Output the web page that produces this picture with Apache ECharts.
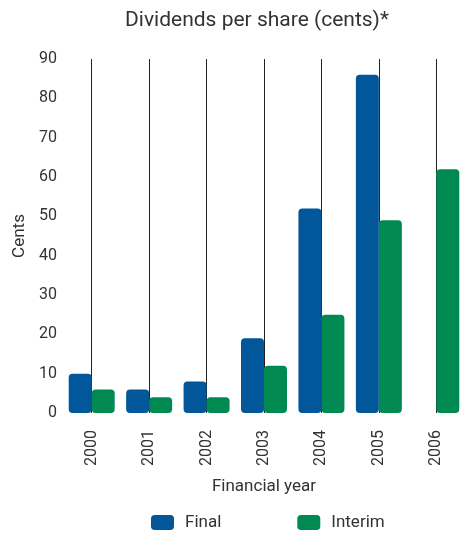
<!DOCTYPE html>
<html><head><meta charset="utf-8">
<script src="https://cdn.jsdelivr.net/npm/echarts@6/dist/echarts.min.js"></script>
<style>html,body{margin:0;padding:0;background:#fff}#c{width:460px;height:535px}</style>
</head><body><div id="c"></div>
<script>
var categories = ['2000','2001','2002','2003','2004','2005','2006'];
var finalValues = [10, 6, 8, 19, 52, 86, null];
var interimValues = [6, 4, 4, 12, 25, 49, 62];
var yTicks = [0,10,20,30,40,50,60,70,80,90];

var font = 'Roboto';
var chart = echarts.init(document.getElementById('c'));
chart.setOption({
  animation: false,
  textStyle: {fontFamily: font},
  title: {text: 'Dividends per share (cents)*', left: 120, top: 5,
    textStyle: {fontFamily: font, fontSize: 21, fontWeight: 'normal', color: '#333'}},
  grid: {left: 63, right: -5, top: 59, bottom: 122, outerBoundsMode: 'none', containLabel: false},
  legend: {bottom: -1, left: 146, itemWidth: 23, itemHeight: 15, itemGap: 76,
    icon: 'roundRect',
    textStyle: {fontFamily: font, fontSize: 17, color: '#333', padding: [0,0,0,6]},
    data: ['Final', 'Interim']},
  xAxis: {type: 'category', data: categories,
    name: 'Financial year', nameLocation: 'middle', nameGap: 65,
    nameTextStyle: {fontFamily: font, fontSize: 17, color: '#333'},
    axisLine: {show: false},
    axisTick: {show: true, alignWithLabel: true, inside: true, length: 354,
      lineStyle: {color: '#222', width: 1}},
    axisLabel: {rotate: 90, fontSize: 16, color: '#333', margin: 17, fontFamily: font}},
  yAxis: {type: 'value', min: yTicks[0], max: yTicks[yTicks.length-1], interval: 10,
    name: 'Cents', nameLocation: 'middle', nameGap: 35,
    nameTextStyle: {fontFamily: font, fontSize: 17, color: '#333'},
    axisLine: {show: false}, axisTick: {show: false}, splitLine: {show: false},
    axisLabel: {fontSize: 16, color: '#333', margin: 6, fontFamily: font}},
  series: [
    {name: 'Final', type: 'bar', data: finalValues, barWidth: 23, barGap: '0%',
      itemStyle: {color: '#02569A', borderRadius: 4}},
    {name: 'Interim', type: 'bar', data: interimValues, barWidth: 23,
      itemStyle: {color: '#008A52', borderRadius: 4}}
  ]
});
</script></body></html>
